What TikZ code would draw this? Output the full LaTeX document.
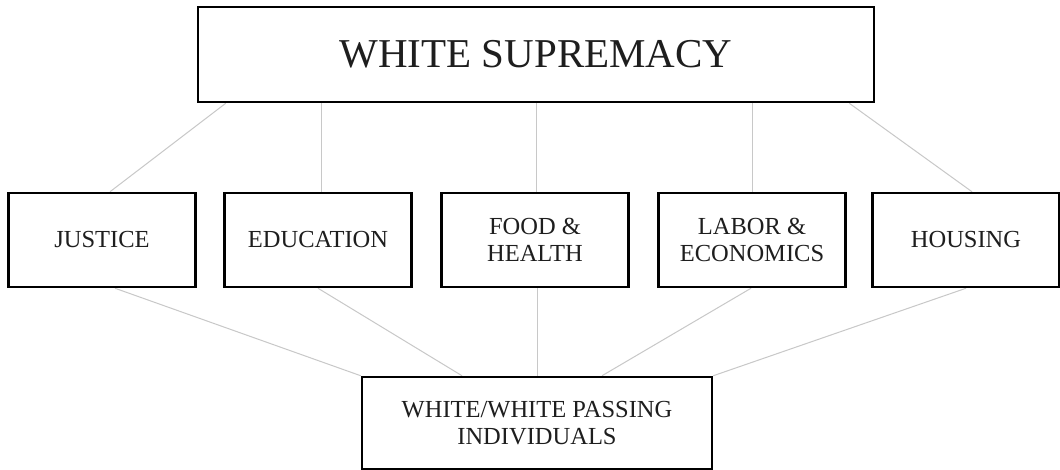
\documentclass[tikz,border=0pt]{standalone}
\usepackage{fontspec}
\setmainfont{Liberation Serif}
\usetikzlibrary{backgrounds}
\definecolor{linkgray}{HTML}{C8C8C8}
\definecolor{inkcol}{HTML}{1E1E1E}
\tikzset{
  boxnode/.style={draw=black, line width=2.5pt, fill=white, inner sep=0pt, text=inkcol, align=center, font=\fontsize{24.5}{27}\selectfont},
  midbox/.style={boxnode, minimum width=187pt, minimum height=94pt},
  link/.style={draw=linkgray, line width=1pt}
}
\begin{document}
\begin{tikzpicture}[x=1pt,y=-1pt]
\useasboundingbox (0,0) rectangle (1060,470);
\node[boxnode, minimum width=676pt, minimum height=95pt, font=\fontsize{41}{45}\selectfont] (top) at (536,54.5) {WHITE SUPREMACY};
\node[midbox] (jus) at (102,240) {JUSTICE};
\node[midbox] (edu) at (318,240) {EDUCATION};
\node[midbox] (food) at (535,240) {FOOD \&\\HEALTH};
\node[midbox] (lab) at (752,240) {LABOR \&\\ECONOMICS};
\node[midbox] (hou) at (966,240) {HOUSING};
\node[boxnode, minimum width=350pt, minimum height=92pt] (ind) at (537,423) {WHITE/WHITE PASSING\\INDIVIDUALS};
\begin{scope}[on background layer]
\fill[white] (0,0) rectangle (1060,470);
\draw[link] ([xshift=29pt]top.south west) -- ([xshift=8pt]jus.north);
\draw[link] ([xshift=3pt]top.south -| edu.north) -- ([xshift=3pt]edu.north);
\draw[link] ([xshift=1pt]top.south -| food.north) -- ([xshift=1pt]food.north);
\draw[link] (top.south -| lab.north) -- (lab.north);
\draw[link] ([xshift=-26pt]top.south east) -- ([xshift=6pt]hou.north);
\draw[link] ([xshift=13pt]jus.south) -- (ind.north west);
\draw[link] (edu.south) -- ([xshift=-75pt]ind.north);
\draw[link] (ind.north |- food.south) -- (ind.north);
\draw[link] ([xshift=-1pt]lab.south) -- ([xshift=65pt]ind.north);
\draw[link] (hou.south) -- (ind.north east);
\end{scope}
\end{tikzpicture}
\end{document}
